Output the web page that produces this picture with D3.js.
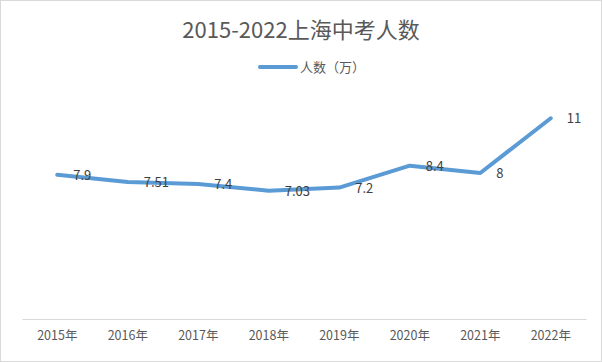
<!DOCTYPE html>
<html>
<head>
<meta charset="utf-8">
<script src="https://cdn.jsdelivr.net/npm/d3@7"></script>
<style>
  body { margin: 0; background: #fff; }
  text { font-family: "Noto Sans CJK SC", "Noto Sans", sans-serif; }
</style>
</head>
<body>
<div class="chart"></div>
<script>
  var years = ["2015年", "2016年", "2017年", "2018年", "2019年", "2020年", "2021年", "2022年"];
  var counts = [7.9, 7.51, 7.4, 7.03, 7.2, 8.4, 8, 11];
  var labels = ["7.9", "7.51", "7.4", "7.03", "7.2", "8.4", "8", "11"];
  var seriesName = "人数（万）";
  var title = "2015-2022上海中考人数";

  var w = 602, h = 362;
  // 注意：不要用 top 作变量名（window.top 只读）
  var plotLeft = 22, plotRight = 586, plotTop = 100, plotBottom = 319;

  var svg = d3.select(".chart").append("svg")
    .attr("width", w)
    .attr("height", h);

  // 外框
  svg.append("rect")
    .attr("x", 0.5).attr("y", 0.5)
    .attr("width", w - 1).attr("height", h - 1)
    .attr("fill", "#fff")
    .attr("stroke", "#d9d9d9");

  // 标题
  svg.append("text")
    .attr("x", w / 2).attr("y", 38)
    .attr("text-anchor", "middle")
    .attr("fill", "#595959")
    .style("font-size", "22px")
    .text(title);

  // 图例
  var legend = svg.append("g").attr("transform", "translate(260,67)");
  legend.append("line")
    .attr("x1", 0).attr("x2", 36)
    .attr("stroke", "#5b9bd5").attr("stroke-width", 4)
    .attr("stroke-linecap", "round");
  legend.append("text")
    .attr("x", 40).attr("y", 4.5)
    .attr("fill", "#595959")
    .style("font-size", "13px")
    .text(seriesName);

  var x = d3.scaleBand().domain(years).range([plotLeft, plotRight]);
  var y = d3.scaleLinear().domain([0, 12]).range([plotBottom, plotTop]);

  // x轴
  var xAxis = svg.append("g")
    .attr("transform", "translate(0," + plotBottom + ")")
    .call(d3.axisBottom(x).tickSize(0).tickPadding(12));
  xAxis.select(".domain").attr("stroke", "#d9d9d9");
  xAxis.selectAll("text")
    .attr("fill", "#595959")
    .style("font-size", "12.5px");

  var line = d3.line()
    .x(function(d, i) { return x(years[i]) + x.bandwidth() / 2; })
    .y(function(d) { return y(d); });

  svg.append("path")
    .datum(counts)
    .attr("d", line)
    .attr("fill", "none")
    .attr("stroke", "#5b9bd5")
    .attr("stroke-width", 4)
    .attr("stroke-linejoin", "round")
    .attr("stroke-linecap", "round");

  // 数据标签
  svg.selectAll(".dlabel")
    .data(counts)
    .enter().append("text")
    .attr("class", "dlabel")
    .attr("x", function(d, i) { return x(years[i]) + x.bandwidth() / 2 + 16; })
    .attr("y", function(d) { return y(d) + 5; })
    .attr("fill", "#404040")
    .style("font-size", "13px")
    .text(function(d, i) { return labels[i]; });
</script>
</body>
</html>
